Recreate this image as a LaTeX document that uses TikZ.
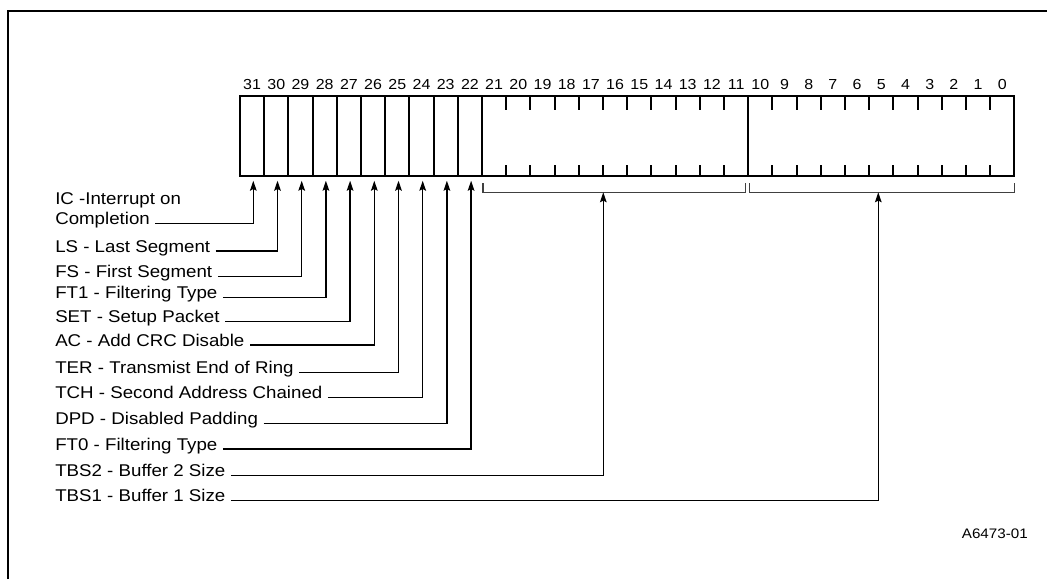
\documentclass[tikz,border=0pt]{standalone}
\usepackage{fontspec}
\setmainfont{Liberation Sans}
\newfontfamily\labfont[FakeStretch=1.1]{Liberation Sans}
\usetikzlibrary{arrows.meta}
\begin{document}
\begin{tikzpicture}[x=0.75pt,y=-0.75pt,
  frame/.style={line width=2pt},
  regbox/.style={draw, line width=1.5pt, inner sep=0pt, minimum height=60pt},
  tick/.style={line width=1.5pt},
  bitnum/.style={font=\labfont\fontsize{10.9}{12}\selectfont, inner sep=0pt, anchor=base},
  lbl/.style={font=\labfont\fontsize{12.75}{15}\selectfont, inner sep=0pt, anchor=base west},
  lead/.style={line width=0.95pt, -{Stealth[length=7.5pt,width=5pt,inset=1.3pt]}},
  brace/.style={line width=0.8pt, draw=black!75},
  figid/.style={font=\labfont\fontsize{10.35}{12}\selectfont, inner sep=0pt, anchor=base east}
]
\useasboundingbox (0,0) rectangle (1047,579);
% outer frame
\draw[frame] (8,579) -- (8,11) -- (1047,11);
% single-bit cells 31..22
\foreach \b in {31,30,...,22}
  \node[regbox, minimum width=18.15pt] (b\b) at ({240+(31-\b+0.5)*24.2},136) {};
% multi-bit fields
\node[regbox, minimum width=199.65pt] (f2) at (615.1,136) {};
\node[regbox, minimum width=199.65pt] (f1) at (881.3,136) {};
% ticks
\foreach \k in {11,12,...,20}
  \draw[tick] ({240+\k*24.2},96) -- ++(0,14) ({240+\k*24.2},176) -- ++(0,-11);
\foreach \k in {22,23,...,31}
  \draw[tick] ({240+\k*24.2},96) -- ++(0,14) ({240+\k*24.2},176) -- ++(0,-11);
% bit numbers
\foreach \b in {31,30,...,0}
  \node[bitnum] (n\b) at ({240+(31-\b+0.5)*24.2},89.3) {\b};
% brackets
\draw[brace] (483,183) -- (483,192.3) -- (745.7,192.3) -- (745.7,183);
\draw[brace] (749.3,183) -- (749.3,192.3) -- (1014.3,192.3) -- (1014.3,183);
\coordinate (br2) at (603.3,192.3);
\coordinate (br1) at (878.3,192.3);
% IC label (two lines)
\node[lbl] (ic) at (55,224.3) {\begin{tabular}[b]{@{}l@{}}IC -Interrupt on\\Completion\end{tabular}};
\coordinate (icst) at (155,223.3);
\draw[lead] (icst) -| ([xshift=0.9pt,yshift=-2.8pt]b31.south);
% other single-bit labels
\foreach \nm/\txt/\yy/\tg in {
  ls/{LS - Last Segment}/251/b30,
  fs/{FS - First Segment}/276.7/b29,
  ftone/{FT1 - Filtering Type}/297.5/b28,
  set/{SET - Setup Packet}/321.7/b27,
  ac/{AC - Add CRC Disable}/345/b26,
  ter/{TER - Transmist End of Ring}/372.3/b25,
  tch/{TCH - Second Address Chained}/397.7/b24,
  dpd/{DPD - Disabled Padding}/423.3/b23,
  ftzero/{FT0 - Filtering Type}/449/b22}
{
  \node[lbl] (\nm) at (55,\yy+1) {\txt};
  \draw[lead] ([xshift=4pt,yshift=0.75pt]\nm.base east) -| ([xshift=0.9pt,yshift=-2.8pt]\tg.south);
}
% field labels
\node[lbl] (tbstwo) at (55,476.7) {TBS2 - Buffer 2 Size};
\draw[lead] ([xshift=4pt,yshift=0.75pt]tbstwo.base east) -| (br2);
\node[lbl] (tbsone) at (55,501.7) {TBS1 - Buffer 1 Size};
\draw[lead] ([xshift=4pt,yshift=0.75pt]tbsone.base east) -| (br1);
% figure id
\node[figid] (fid) at (1028,538) {A6473-01};
\end{tikzpicture}
\end{document}
